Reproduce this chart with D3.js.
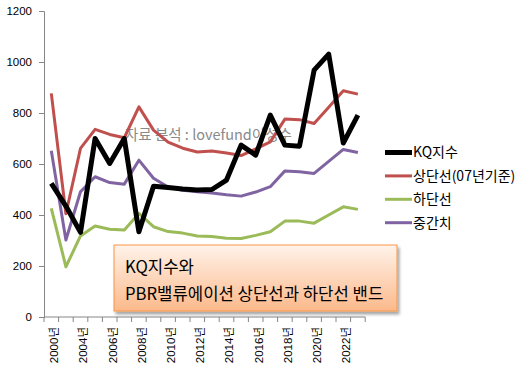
<!DOCTYPE html>
<html>
<head>
<meta charset="utf-8">
<script src="https://cdn.jsdelivr.net/npm/d3@7"></script>
<style>
  body { margin: 0; background: #fff; }
  text { font-family: "Liberation Sans", "Noto Sans CJK KR", sans-serif; }
  .kr { font-family: "Noto Sans CJK KR", "Liberation Sans", sans-serif; }
</style>
</head>
<body>
<div id="chart"></div>
<script>
// categories (year-end); every other one gets a label like the original
const years = ["2000년", "2002년", "2004년", "2005년", "2006년", "2007년", "2008년", "2009년",
    "2010년", "2011년", "2012년", "2013년", "2014년", "2015년", "2016년", "2017년",
    "2018년", "2019년", "2020년", "2021년", "2022년", "2023년"];

const kq = [524, 435, 332, 700, 602, 700, 334, 513, 508, 502, 498, 500, 537, 674, 635, 792, 674, 670, 968, 1031, 682, 792];
const upper = [877, 405, 661, 736, 716, 703, 824, 733, 686, 662, 647, 651, 643, 633, 659, 687, 776, 774, 759, 823, 887, 874];
const lower = [426, 197, 318, 357, 344, 341, 406, 354, 335, 329, 318, 316, 309, 308, 320, 334, 376, 376, 368, 400, 432, 422];
const middle = [652, 302, 491, 550, 527, 521, 615, 544, 510, 497, 491, 486, 479, 474, 490, 511, 573, 570, 563, 610, 657, 645];

const yTicks = [0, 200, 400, 600, 800, 1000, 1200];

const seriesNames = ["KQ지수", "상단선(07년기준)", "하단선", "중간치"];
const seriesColors = ["#000000", "#C0504D", "#9BBB59", "#8064A2"];

const width = 521, height = 372;
const plotL = 44, plotR = 365.2, plotT = 11, plotB = 317;

const svg = d3.select("#chart").append("svg")
    .attr("width", width)
    .attr("height", height);

const defs = svg.append("defs");
const grad = defs.append("linearGradient").attr("id", "boxGrad")
    .attr("x1", 0).attr("y1", 0).attr("x2", 0).attr("y2", 1);
grad.append("stop").attr("offset", "0%").attr("stop-color", "#FFF3EA");
grad.append("stop").attr("offset", "100%").attr("stop-color", "#FCB98B");
const shadow = defs.append("filter").attr("id", "shadow")
    .attr("x", "-10%").attr("y", "-10%").attr("width", "130%").attr("height", "140%");
shadow.append("feDropShadow").attr("dx", 2).attr("dy", 3).attr("stdDeviation", 1.5)
    .attr("flood-color", "#000").attr("flood-opacity", 0.35);

let x = d3.scaleBand().domain(years).range([plotL, plotR]).padding(0);
let y = d3.scaleLinear().domain([0, 1200]).range([plotB, plotT]);

// y axis
const yAxis = svg.append("g")
    .attr("transform", `translate(${plotL},0)`)
    .call(d3.axisLeft(y).tickValues(yTicks).tickFormat(d3.format("d")).tickSize(5).tickPadding(7));
yAxis.select(".domain").attr("stroke", "#868686");
yAxis.selectAll(".tick line").attr("stroke", "#868686");
yAxis.selectAll(".tick text").attr("font-size", "11.5px").attr("fill", "#000");

// x axis: ticks on category boundaries
const xAxis = svg.append("g");
xAxis.append("line")
    .attr("x1", plotL).attr("x2", plotR)
    .attr("y1", plotB).attr("y2", plotB)
    .attr("stroke", "#868686");
xAxis.selectAll(".xtick")
    .data(d3.range(years.length + 1))
    .enter().append("line")
    .attr("x1", i => plotL + i * x.step())
    .attr("x2", i => plotL + i * x.step())
    .attr("y1", plotB).attr("y2", plotB + 5)
    .attr("stroke", "#868686");
xAxis.selectAll(".xlabel")
    .data(years.filter((d, i) => i % 2 === 0))
    .enter().append("text")
    .attr("transform", d => `translate(${x(d) + x.bandwidth() / 2},${plotB + 10}) rotate(-90)`)
    .attr("text-anchor", "end")
    .attr("dy", "0.6em")
    .attr("font-size", "11.5px")
    .text(d => d);

// watermark
svg.append("text")
    .attr("class", "kr")
    .attr("x", 125).attr("y", 140)
    .attr("font-size", "14.5px")
    .attr("fill", "#8a8a8a")
    .text("자료 분석 : lovefund이성수");

// lines
const line = d3.line()
    .x((d, i) => x(years[i]) + x.bandwidth() / 2)
    .y(d => y(d));

const series = [kq, upper, lower, middle];
const widths = [5, 3, 3, 3];
[1, 2, 3, 0].forEach(k => {
    svg.append("path")
        .datum(series[k])
        .attr("fill", "none")
        .attr("stroke", seriesColors[k])
        .attr("stroke-width", widths[k])
        .attr("stroke-linejoin", "round")
        .attr("d", line);
});

// legend
const legend = svg.append("g");
seriesNames.forEach((name, k) => {
    let ly = 152.5 + k * 23.4;
    legend.append("line")
        .attr("x1", 385).attr("x2", 412)
        .attr("y1", ly).attr("y2", ly)
        .attr("stroke", seriesColors[k])
        .attr("stroke-width", widths[k]);
    legend.append("text")
        .attr("class", "kr")
        .attr("x", 413).attr("y", ly)
        .attr("dy", "0.35em")
        .attr("font-size", "14px")
        .text(name);
});

// title box
const box = svg.append("g");
box.append("rect")
    .attr("x", 114).attr("y", 245)
    .attr("width", 283).attr("height", 66)
    .attr("fill", "url(#boxGrad)")
    .attr("stroke", "#F79646")
    .attr("stroke-width", 1)
    .attr("filter", "url(#shadow)");
box.append("text")
    .attr("class", "kr")
    .attr("x", 125).attr("y", 273)
    .attr("font-size", "16.7px")
    .text("KQ지수와");
box.append("text")
    .attr("class", "kr")
    .attr("x", 125).attr("y", 300)
    .attr("font-size", "16.7px")
    .text("PBR밸류에이션 상단선과 하단선 밴드");
</script>
</body>
</html>
